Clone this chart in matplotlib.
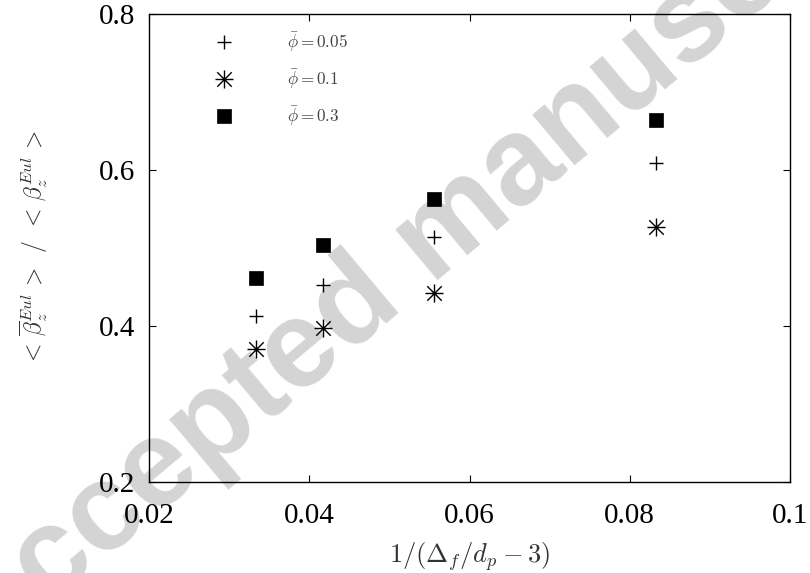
import matplotlib
matplotlib.use("Agg")
import matplotlib.pyplot as plt
from matplotlib.path import Path
import numpy as np

# ---- data ----
x_vals = [0.0333, 0.0417, 0.0556, 0.0833]
phi_005 = [0.413, 0.452, 0.514, 0.609]
phi_01 = [0.371, 0.398, 0.442, 0.527]
phi_03 = [0.461, 0.504, 0.563, 0.664]
labels = [r"$\bar{\phi} = 0.05$", r"$\bar{\phi} = 0.1$", r"$\bar{\phi} = 0.3$"]
x_ticks = [0.02, 0.04, 0.06, 0.08, 0.1]
x_ticklabels = ["0.02", "0.04", "0.06", "0.08", "0.1"]
y_ticks = [0.2, 0.4, 0.6, 0.8]
y_ticklabels = ["0.2", "0.4", "0.6", "0.8"]

plt.rcParams["mathtext.fontset"] = "cm"

fig = plt.figure(figsize=(8.1, 5.73), dpi=100)
ax = fig.add_axes([149/810, 1-482/573, (790-149)/810, (482-14)/573])
ax.patch.set_alpha(0)

# watermark
fig.text(440/810, 1-236/573, "Accepted manuscript", rotation=40, rotation_mode="anchor",
         ha="center", va="center", fontsize=89, fontweight="bold",
         family="Liberation Sans", color="#d4d4d4", zorder=-5)

M, L = Path.MOVETO, Path.LINETO
star = Path([(-1, 0), (1, 0), (0, -1), (0, 1), (-0.8, -0.8), (0.8, 0.8), (-0.8, 0.8), (0.8, -0.8)],
            [M, L, M, L, M, L, M, L])

ax.plot(x_vals, phi_005, ls="none", marker="+", ms=10, mew=1.0, color="black", label=labels[0])
ax.plot(x_vals, phi_01, ls="none", marker=star, ms=13, mew=1.0, color="black",
        mfc="none", label=labels[1])
ax.plot(x_vals, phi_03, ls="none", marker="s", ms=9.5, mew=0.5, color="black", label=labels[2])

ax.set_xlim(0.02, 0.1)
ax.set_ylim(0.2, 0.8)
ax.set_xticks(x_ticks)
ax.set_xticklabels(x_ticklabels, family="Liberation Serif", fontsize=21)
ax.set_yticks(y_ticks)
ax.set_yticklabels(y_ticklabels, family="Liberation Serif", fontsize=21)
ax.tick_params(direction="in", length=5, width=0.8, top=True, right=True)
ax.tick_params(axis="x", pad=15)
ax.tick_params(axis="y", pad=10)
for s in ax.spines.values():
    s.set_linewidth(1.0)

ax.set_xlabel(r"$1/(\Delta_f/d_p - 3)$", fontsize=19, color="#333333", labelpad=8)
ax.set_ylabel(r"$<\,\overline{\beta}_z^{Eul}\,>\ \,/\ \,<\,\beta_z^{Eul}\,>$", fontsize=17,
              color="#333333")
ax.yaxis.set_label_coords(-0.1545, 0.5)

leg = ax.legend(loc="upper left", frameon=False, fontsize=12.3, handlelength=2.0,
                handletextpad=2.7, labelspacing=0.78, borderaxespad=0.0,
                bbox_to_anchor=(0.079, 0.98))
for t in leg.get_texts():
    t.set_color("#444444")

fig.savefig("out.png", dpi=100)
